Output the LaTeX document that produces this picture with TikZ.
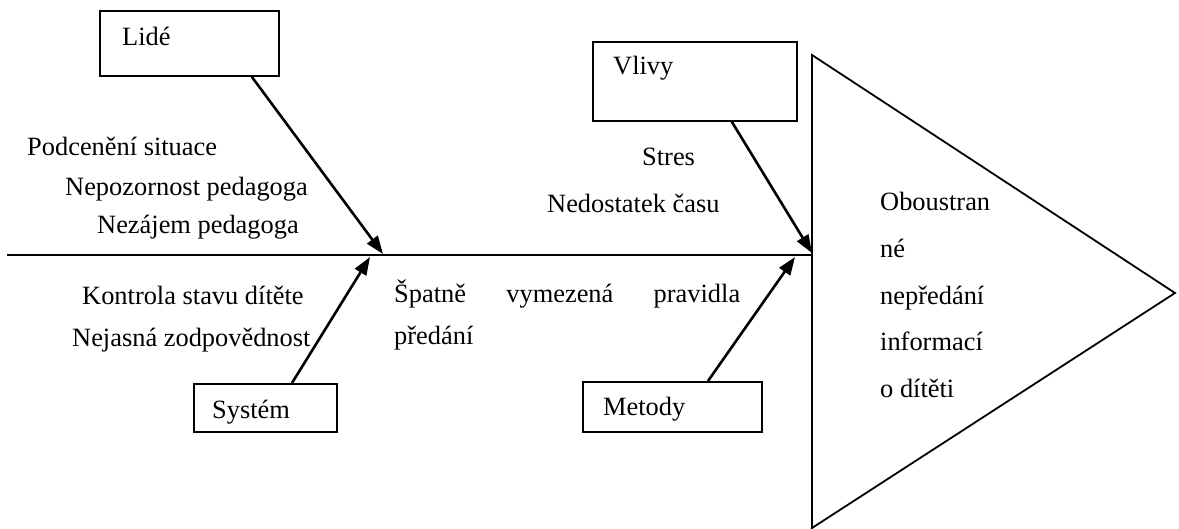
\documentclass[tikz,border=0pt]{standalone}
\usepackage{fontspec}
\setmainfont{Liberation Serif}
\usetikzlibrary{arrows.meta}
\begin{document}
\begin{tikzpicture}[x=1pt,y=-1pt,
  font=\fontsize{26.4}{30}\selectfont,
  box/.style={draw, line width=1.8pt, anchor=north west, inner sep=0pt},
  txt/.style={anchor=base west, inner sep=0pt},
  bone/.style={line width=2.6pt, -{Triangle[length=18pt,width=13pt]}},
  spine/.style={line width=2.2pt}]
\useasboundingbox (0,0) rectangle (1179,529);

% cause boxes
\node[box, minimum width=179pt, minimum height=65pt] (lide)   at (99,10)  {};
\node[box, minimum width=204pt, minimum height=79pt] (vlivy)  at (592,41) {};
\node[box, minimum width=143pt, minimum height=48pt] (system) at (193,383) {};
\node[box, minimum width=179pt, minimum height=50pt] (metody) at (582,381) {};

\node[txt] (lideT)   at (122,46)  {Lidé};
\node[txt] (vlivyT)  at (613,75)  {Vlivy};
\node[txt] (systemT) at (212,419) {Systém};
\node[txt] (metodyT) at (603,416) {Metody};

% head of the fish (effect)
\coordinate (htop) at (812,55);
\coordinate (htip) at (1175,293);
\coordinate (hbot) at (812,528);
\draw[line width=1.8pt, line join=miter] (htop) -- (htip) -- (hbot) -- cycle;

% spine
\coordinate (tail) at (7,255);
\coordinate (head) at (812,255);
\draw[spine] (tail) -- (head);

% joints on the spine
\coordinate (j1a) at (383,254);
\coordinate (j1b) at (370,257);
\coordinate (j2a) at (812,253);
\coordinate (j2b) at (795,257);

% bones
\draw[bone] ([xshift=-28pt]lide.south east) -- (j1a);
\draw[bone] ([xshift=99pt]system.north west) -- (j1b);
\draw[bone] ([xshift=-66pt]vlivy.south east) -- (j2a);
\draw[bone] ([xshift=126pt]metody.north west) -- (j2b);

% causes
\node[txt] (c1) at (27,156)  {Podcenění situace};
\node[txt] (c2) at (65,196)  {Nepozornost pedagoga};
\node[txt] (c3) at (97,234)  {Nezájem pedagoga};
\node[txt] (c4) at (82,305)  {Kontrola stavu dítěte};
\node[txt] (c5) at (72,347)  {Nejasná zodpovědnost};
\node[txt] (c6) at (394,303) {\hbox to 346pt{Špatně\hfill vymezená\hfill pravidla}};
\node[txt] (c7) at (394,345) {předání};
\node[txt] (c8) at (642,166) {Stres};
\node[txt] (c9) at (547,213) {Nedostatek času};

% effect text
\node[txt] (e1) at (880,211) {Oboustran};
\node[txt] (e2) at (880,258) {né};
\node[txt] (e3) at (880,305) {nepředání};
\node[txt] (e4) at (880,351) {informací};
\node[txt] (e5) at (880,398) {o dítěti};
\end{tikzpicture}
\end{document}
